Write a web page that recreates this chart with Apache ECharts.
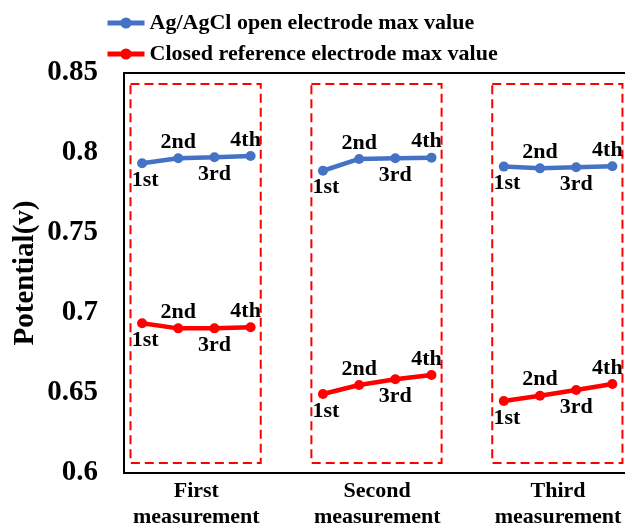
<!DOCTYPE html>
<html>
<head>
<meta charset="utf-8">
<script src="https://cdn.jsdelivr.net/npm/echarts@6/dist/echarts.min.js"></script>
<style>html,body{margin:0;padding:0;background:#fff}#c{width:625px;height:527px}</style>
</head>
<body>
<div id="c"></div>
<script>
// ---- data ----
const groupNames = ['First\nmeasurement', 'Second\nmeasurement', 'Third\nmeasurement'];
const pointLabels = ['1st', '2nd', '3rd', '4th'];
const seriesNames = ['Ag/AgCl open electrode max value', 'Closed reference electrode max value'];
const openFirst = [0.7936, 0.7967, 0.7973, 0.7981];
const openSecond = [0.7889, 0.7963, 0.7967, 0.7971];
const openThird = [0.7915, 0.7904, 0.7911, 0.7917];
const closedFirst = [0.6936, 0.6904, 0.6904, 0.6911];
const closedSecond = [0.6494, 0.6550, 0.6586, 0.6613];
const closedThird = [0.6450, 0.6483, 0.6519, 0.6556];
const yMin = 0.6, yMax = 0.85, yStep = 0.05;

// ---- build ----
const FONT = '"Liberation Serif", "Times New Roman", serif';
const SLOT = pointLabels.length + 1; // one empty slot between groups
function build(groups) {
  const out = [];
  groups.forEach((vals, g) => {
    vals.forEach((v, i) => out.push({ value: [g * SLOT + i, v], name: pointLabels[i] }));
    if (g < groups.length - 1) out.push({ value: [g * SLOT + vals.length, '-'] });
  });
  return out;
}
const openData = build([openFirst, openSecond, openThird]);
const closedData = build([closedFirst, closedSecond, closedThird]);

function centerOf(g) { return g * SLOT + (pointLabels.length - 1) / 2; }

const boxAreas = groupNames.map((n, g) => [
  { coord: [g * SLOT - 0.32, 0.8431] },
  { coord: [g * SLOT + pointLabels.length - 1 + 0.28, 0.6063] }
]);

const labelCfg = {
  show: true,
  fontFamily: FONT, fontWeight: 'bold', fontSize: 22, color: '#000',
  formatter: p => p.name || ''
};
function decorate(data) {
  return data.map(d => {
    if (!d.name) return d;
    const i = pointLabels.indexOf(d.name);
    const below = i % 2 === 0;
    d.label = {
      position: below ? 'bottom' : 'top',
      distance: below ? 1 : 0,
      offset: i === 0 ? [3, 0] : (i === pointLabels.length - 1 ? [-5, 0] : [0, 0])
    };
    return d;
  });
}

const axisText = { fontFamily: FONT, fontWeight: 'bold', color: '#000' };

const chart = echarts.init(document.getElementById('c'), null, { renderer: 'canvas' });
chart.setOption({
  animation: false,
  backgroundColor: '#fff',
  legend: {
    orient: 'vertical',
    left: 100, top: 7,
    itemWidth: 37, itemHeight: 14, itemGap: 9,
    lineStyle: { width: 5 },
    textStyle: Object.assign({ fontSize: 22 }, axisText),
    data: seriesNames
  },
  grid: { left: 124, top: 73, bottom: 54, right: 0, containLabel: false, outerBoundsMode: 'none' },
  xAxis: [
    {
      type: 'value', min: -0.5, max: 13.35, interval: 0.5, position: 'bottom',
      axisLine: { show: true, onZero: false, lineStyle: { color: '#000', width: 2 } },
      axisTick: { show: false }, splitLine: { show: false },
      axisLabel: Object.assign({
        margin: 5, fontSize: 22, lineHeight: 26,
        showMinLabel: true, showMaxLabel: false,
        formatter: v => {
          for (let g = 0; g < groupNames.length; g++) {
            if (Math.abs(v - centerOf(g)) < 1e-6) return groupNames[g];
          }
          return '';
        }
      }, axisText)
    },
    {
      type: 'value', min: -0.5, max: 13.35, position: 'top',
      axisLine: { show: true, onZero: false, lineStyle: { color: '#000', width: 2 } },
      axisTick: { show: false }, splitLine: { show: false }, axisLabel: { show: false }
    }
  ],
  yAxis: {
    type: 'value', min: yMin, max: yMax, interval: yStep,
    name: 'Potential(v)', nameLocation: 'middle', nameRotate: 90, nameGap: 84,
    nameMoveOverlap: false,
    nameTextStyle: Object.assign({ fontSize: 29 }, axisText),
    axisLine: { show: true, onZero: false, lineStyle: { color: '#000', width: 2 } },
    axisTick: { show: false }, splitLine: { show: false },
    axisLabel: Object.assign({
      margin: 26, fontSize: 29, padding: [8, 0, 0, 0],
      formatter: v => String(Math.round(v * 100) / 100)
    }, axisText)
  },
  series: [
    {
      name: seriesNames[0], type: 'line',
      data: decorate(openData),
      symbol: 'circle', symbolSize: 10,
      lineStyle: { width: 4.5, color: '#4472C4' },
      itemStyle: { color: '#4472C4' },
      label: labelCfg,
      z: 3
    },
    {
      name: seriesNames[1], type: 'line',
      data: decorate(closedData),
      symbol: 'circle', symbolSize: 10,
      lineStyle: { width: 4.5, color: '#FF0000' },
      itemStyle: { color: '#FF0000' },
      label: labelCfg,
      markArea: {
        silent: true,
        label: { show: false },
        itemStyle: { color: 'rgba(0,0,0,0)', borderColor: '#FF0000', borderWidth: 2, borderType: [9, 5] },
        data: boxAreas
      },
      z: 3
    }
  ]
});
</script>
</body>
</html>
